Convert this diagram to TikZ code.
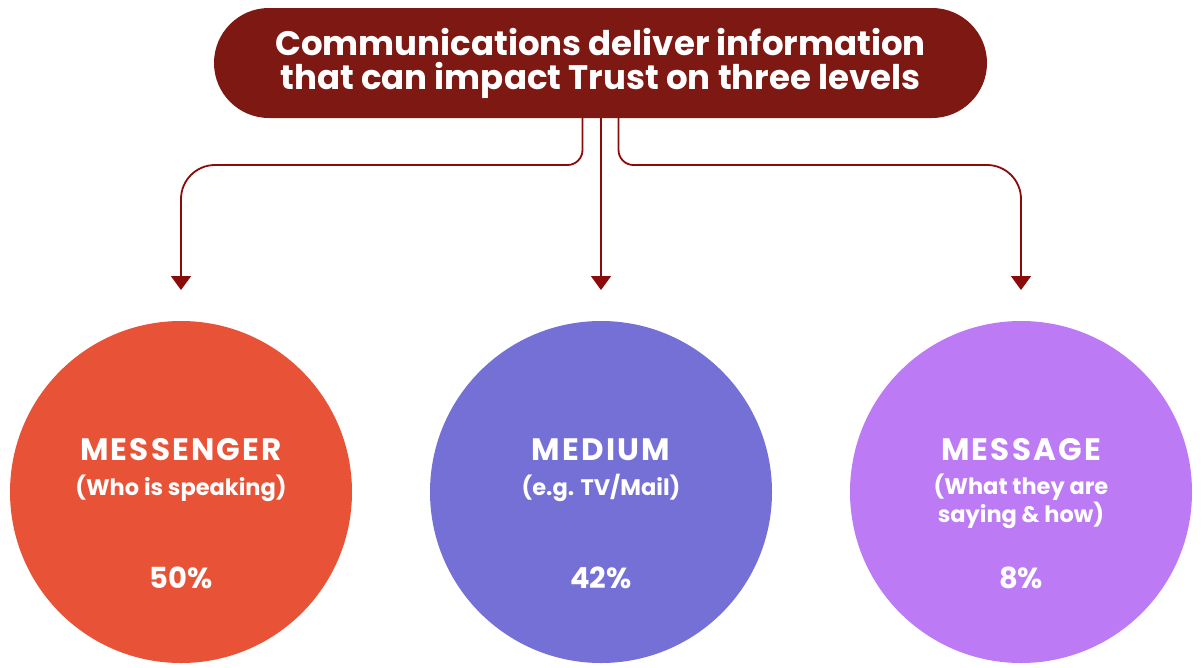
\documentclass[tikz,border=0pt]{standalone}
\usepackage{fontspec}
\setmainfont{Poppins}[BoldFont=Poppins Bold]
\usetikzlibrary{arrows.meta}
\definecolor{titlered}{HTML}{7D1812}
\definecolor{linered}{HTML}{8B0A0A}
\definecolor{corange}{HTML}{E85236}
\definecolor{cblue}{HTML}{7570D6}
\definecolor{cviolet}{HTML}{BC7AF5}
\tikzset{
  pill/.style={fill=titlered, draw=none, rounded corners=55pt, minimum width=773pt, minimum height=110pt, text=white, align=center, font=\bfseries\fontsize{34}{34}\selectfont},
  conn/.style={draw=linered, line width=1.8pt, -{Triangle[width=20pt,length=14pt]}},
  bubble/.style={circle, draw=none, minimum size=342pt, inner sep=0pt},
  headtxt/.style={text=white, font=\bfseries\addfontfeatures{LetterSpace=7}\fontsize{31}{34}\selectfont},
  subtxt/.style={text=white, align=center, font=\bfseries\fontsize{22.5}{28}\selectfont},
  pcttxt/.style={text=white, font=\bfseries\fontsize{29}{32}\selectfont}
}
\begin{document}
\begin{tikzpicture}[x=1pt,y=-1pt]
\useasboundingbox (0,0) rectangle (1202,667);
\node[pill] (title) at (600.5,63) {Communications deliver information\\that can impact Trust on three levels};

\node[bubble, fill=corange] (messenger) at (181,492) {};
\node[bubble, fill=cblue] (medium) at (601,492) {};
\node[bubble, fill=cviolet] (message) at (1021,492) {};

\node[headtxt] (h1) at (181,450) {MESSENGER};
\node[subtxt] (s1) at (181,488) {(Who is speaking)};
\node[pcttxt] (p1) at (181,578) {50\%};

\node[headtxt] (h2) at (601,450) {MEDIUM};
\node[subtxt] (s2) at (601,488) {(e.g. TV/Mail)};
\node[pcttxt] (p2) at (601,578) {42\%};

\node[headtxt] (h3) at (1021,450) {MESSAGE};
\node[subtxt] (s3) at (1021,501) {(What they are\\saying \& how)};
\node[pcttxt] (p3) at (1021,578) {8\%};

\coordinate (t1) at (181,290);
\coordinate (t2) at (601,290);
\coordinate (t3) at (1021,290);

\draw[conn] ([xshift=-18pt]title.south) [rounded corners=15pt] -- ([xshift=-18pt]title.south |- 0,165) [rounded corners=34pt] -- (t1 |- 0,165) [sharp corners] -- (t1);
\draw[conn] (title.south -| t2) -- (t2);
\draw[conn] ([xshift=18pt]title.south) [rounded corners=15pt] -- ([xshift=18pt]title.south |- 0,165) [rounded corners=34pt] -- (t3 |- 0,165) [sharp corners] -- (t3);
\end{tikzpicture}
\end{document}
